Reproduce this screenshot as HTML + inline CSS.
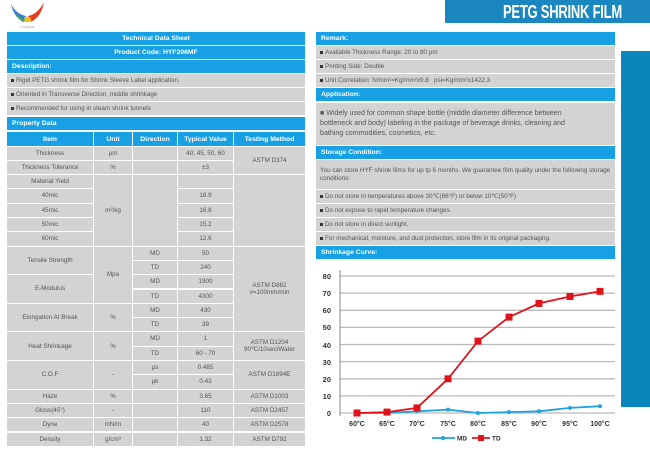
<!DOCTYPE html>
<html><head><meta charset="utf-8"><style>
*{margin:0;padding:0;box-sizing:border-box}
body{width:650px;height:453px;background:#fff;position:relative;overflow:hidden;font-family:"Liberation Sans",sans-serif;font-size:6.3px;color:#555}
.c{position:absolute;background:#d3d3d3;display:flex;align-items:center;justify-content:center;text-align:center;line-height:1.15}
.h{position:absolute;background:#17a0e4;color:#fff;font-weight:bold;display:flex;align-items:center;font-size:6.8px}
.l{justify-content:flex-start;padding-left:5px;text-align:left}
.b{position:absolute;background:#d3d3d3;display:flex;align-items:center;padding-left:4px;color:#555}
.b::before{content:"";display:inline-block;width:3px;height:3px;background:#333;margin-right:2px}
</style></head><body>
<svg style="position:absolute;left:8px;top:0" width="40" height="30"><path d="M3 4 Q8 14 18 16 L16 22 Q6 18 3 4Z" fill="#3a7fd0"/><path d="M36 2 Q30 14 20 16 L22 22 Q33 18 36 2Z" fill="#e04020"/><path d="M16 17 L22 17 L24 22 L17 22Z" fill="#f0c020"/><path d="M8 14 L16 20 L14 22Z" fill="#40b040"/><text x="12" y="28" font-size="3" fill="#999">YOUFENG</text></svg>
<div style="position:absolute;left:445px;top:0;width:205px;height:23px;background:#1a87c1"></div>
<div style="position:absolute;left:503px;top:1px;height:22px;color:#fff;font-weight:bold;font-size:18px;line-height:22px;white-space:nowrap;transform:scaleX(0.72);transform-origin:0 0;letter-spacing:-0.3px">PETG SHRINK FILM</div>
<div style="position:absolute;left:621px;top:51px;width:29px;height:356px;background:#0a86bd"></div>

<div class="h" style="left:7px;top:32px;width:298px;height:13px;justify-content:center">Technical Data Sheet</div>
<div class="h" style="left:7px;top:46px;width:298px;height:13px;justify-content:center">Product Code: HYF206MF</div>
<div class="h l" style="left:7px;top:60px;width:298px;height:13px">Description:</div>
<div class="b" style="left:7px;top:74px;width:298px;height:13px">Rigid PETG shrink film for Shrink Sleeve Label application.</div>
<div class="b" style="left:7px;top:88px;width:298px;height:13px">Oriented in Transverse Direction, middle shrinkage</div>
<div class="b" style="left:7px;top:102px;width:298px;height:13px">Recommended for using in steam shrink tunnels</div>
<div class="h l" style="left:7px;top:117px;width:298px;height:13px">Property Data</div>
<div class="h" style="left:7px;top:132px;width:86px;height:14px;justify-content:center">Item</div>
<div class="h" style="left:94px;top:132px;width:38px;height:14px;justify-content:center">Unit</div>
<div class="h" style="left:133px;top:132px;width:44px;height:14px;justify-content:center">Direction</div>
<div class="h" style="left:178px;top:132px;width:55px;height:14px;justify-content:center">Typical Value</div>
<div class="h" style="left:234px;top:132px;width:71px;height:14px;justify-content:center">Testing Method</div>

<div class="c" style="left:7px;top:146.5px;width:86px;height:13.3px">Thickness</div>
<div class="c" style="left:7px;top:160.8px;width:86px;height:13.3px">Thickness Tolerance</div>
<div class="c" style="left:7px;top:175.1px;width:86px;height:13.3px">Material Yield</div>
<div class="c" style="left:7px;top:189.4px;width:86px;height:13.3px">40mic</div>
<div class="c" style="left:7px;top:203.7px;width:86px;height:13.3px">45mic</div>
<div class="c" style="left:7px;top:218px;width:86px;height:13.3px">50mic</div>
<div class="c" style="left:7px;top:232.3px;width:86px;height:13.3px">60mic</div>
<div class="c" style="left:7px;top:246.6px;width:86px;height:27.6px">Tensile Strength</div>
<div class="c" style="left:7px;top:275.2px;width:86px;height:27.6px">E-Modulus</div>
<div class="c" style="left:7px;top:303.8px;width:86px;height:27.6px">Elongation At Break</div>
<div class="c" style="left:7px;top:332.4px;width:86px;height:27.6px">Heat Shrinkage</div>
<div class="c" style="left:7px;top:361px;width:86px;height:27.6px">C.O.F</div>
<div class="c" style="left:7px;top:389.6px;width:86px;height:13.3px">Haze</div>
<div class="c" style="left:7px;top:403.9px;width:86px;height:13.3px">Gloss(45°)</div>
<div class="c" style="left:7px;top:418.2px;width:86px;height:13.3px">Dyne</div>
<div class="c" style="left:7px;top:432.5px;width:86px;height:13.3px">Density</div>
<div class="c" style="left:94px;top:146.5px;width:38px;height:13.3px">µm</div>
<div class="c" style="left:94px;top:160.8px;width:38px;height:13.3px">%</div>
<div class="c" style="left:94px;top:175.1px;width:38px;height:70.5px">m²/kg</div>
<div class="c" style="left:94px;top:246.6px;width:38px;height:56.2px">Mpa</div>
<div class="c" style="left:94px;top:303.8px;width:38px;height:27.6px">%</div>
<div class="c" style="left:94px;top:332.4px;width:38px;height:27.6px">%</div>
<div class="c" style="left:94px;top:361px;width:38px;height:27.6px">-</div>
<div class="c" style="left:94px;top:389.6px;width:38px;height:13.3px">%</div>
<div class="c" style="left:94px;top:403.9px;width:38px;height:13.3px">-</div>
<div class="c" style="left:94px;top:418.2px;width:38px;height:13.3px">mN/m</div>
<div class="c" style="left:94px;top:432.5px;width:38px;height:13.3px">g/cm³</div>
<div class="c" style="left:133px;top:146.5px;width:44px;height:13.3px"></div>
<div class="c" style="left:133px;top:160.8px;width:44px;height:13.3px"></div>
<div class="c" style="left:133px;top:175.1px;width:44px;height:70.5px"></div>
<div class="c" style="left:133px;top:246.6px;width:44px;height:13.3px">MD</div>
<div class="c" style="left:133px;top:260.9px;width:44px;height:13.3px">TD</div>
<div class="c" style="left:133px;top:275.2px;width:44px;height:13.3px">MD</div>
<div class="c" style="left:133px;top:289.5px;width:44px;height:13.3px">TD</div>
<div class="c" style="left:133px;top:303.8px;width:44px;height:13.3px">MD</div>
<div class="c" style="left:133px;top:318.1px;width:44px;height:13.3px">TD</div>
<div class="c" style="left:133px;top:332.4px;width:44px;height:13.3px">MD</div>
<div class="c" style="left:133px;top:346.7px;width:44px;height:13.3px">TD</div>
<div class="c" style="left:133px;top:361px;width:44px;height:13.3px">µs</div>
<div class="c" style="left:133px;top:375.3px;width:44px;height:13.3px">µk</div>
<div class="c" style="left:133px;top:389.6px;width:44px;height:13.3px"></div>
<div class="c" style="left:133px;top:403.9px;width:44px;height:13.3px"></div>
<div class="c" style="left:133px;top:418.2px;width:44px;height:13.3px"></div>
<div class="c" style="left:133px;top:432.5px;width:44px;height:13.3px"></div>
<div class="c" style="left:178px;top:146.5px;width:55px;height:13.3px">40, 45, 50, 60</div>
<div class="c" style="left:178px;top:160.8px;width:55px;height:13.3px">±3</div>
<div class="c" style="left:178px;top:175.1px;width:55px;height:13.3px"></div>
<div class="c" style="left:178px;top:189.4px;width:55px;height:13.3px">18.9</div>
<div class="c" style="left:178px;top:203.7px;width:55px;height:13.3px">16.8</div>
<div class="c" style="left:178px;top:218px;width:55px;height:13.3px">15.2</div>
<div class="c" style="left:178px;top:232.3px;width:55px;height:13.3px">12.6</div>
<div class="c" style="left:178px;top:246.6px;width:55px;height:13.3px">50</div>
<div class="c" style="left:178px;top:260.9px;width:55px;height:13.3px">240</div>
<div class="c" style="left:178px;top:275.2px;width:55px;height:13.3px">1900</div>
<div class="c" style="left:178px;top:289.5px;width:55px;height:13.3px">4300</div>
<div class="c" style="left:178px;top:303.8px;width:55px;height:13.3px">430</div>
<div class="c" style="left:178px;top:318.1px;width:55px;height:13.3px">39</div>
<div class="c" style="left:178px;top:332.4px;width:55px;height:13.3px">1</div>
<div class="c" style="left:178px;top:346.7px;width:55px;height:13.3px">60 - 70</div>
<div class="c" style="left:178px;top:361px;width:55px;height:13.3px">0.485</div>
<div class="c" style="left:178px;top:375.3px;width:55px;height:13.3px">0.43</div>
<div class="c" style="left:178px;top:389.6px;width:55px;height:13.3px">3.65</div>
<div class="c" style="left:178px;top:403.9px;width:55px;height:13.3px">110</div>
<div class="c" style="left:178px;top:418.2px;width:55px;height:13.3px">40</div>
<div class="c" style="left:178px;top:432.5px;width:55px;height:13.3px">1.32</div>
<div class="c" style="left:234px;top:146.5px;width:71px;height:27.6px">ASTM D374</div>
<div class="c" style="left:234px;top:175.1px;width:71px;height:70.5px"></div>
<div class="c" style="left:234px;top:246.6px;width:71px;height:84.8px">ASTM D882<br>v=100mm/min</div>
<div class="c" style="left:234px;top:332.4px;width:71px;height:27.6px">ASTM D1204<br>90℃/10sec/Water</div>
<div class="c" style="left:234px;top:361px;width:71px;height:27.6px">ASTM D1894E</div>
<div class="c" style="left:234px;top:389.6px;width:71px;height:13.3px">ASTM D1003</div>
<div class="c" style="left:234px;top:403.9px;width:71px;height:13.3px">ASTM D2457</div>
<div class="c" style="left:234px;top:418.2px;width:71px;height:13.3px">ASTM D2578</div>
<div class="c" style="left:234px;top:432.5px;width:71px;height:13.3px">ASTM D792</div>

<div class="h l" style="left:316px;top:32px;width:299px;height:13px">Remark:</div>
<div class="b" style="left:316px;top:46px;width:299px;height:13px">Available Thickness Range: 20 to 80 µm</div>
<div class="b" style="left:316px;top:60px;width:299px;height:13px">Printing Side: Double</div>
<div class="b" style="left:316px;top:74px;width:299px;height:13px">Unit Correlation: N/mm²=Kg/mm²x9.8&nbsp;&nbsp; psi=Kg/mm²x1422.3</div>
<div class="h l" style="left:316px;top:88px;width:299px;height:13px">Application:</div>
<div style="position:absolute;left:316px;top:103px;width:299px;height:42px;background:#d3d3d3;padding:6px 4px 0 4px;font-size:7.1px;line-height:9.8px;white-space:nowrap">■ Widely used for common shape bottle (middle diameter difference between<br>bottleneck and body) labeling in the package of beverage drinks, cleaning and<br>bathing commodities, cosmetics, etc.</div>
<div class="h l" style="left:316px;top:146px;width:299px;height:13px">Storage Condition:</div>
<div style="position:absolute;left:316px;top:160px;width:299px;height:29px;background:#d3d3d3;padding:7px 4px 0;line-height:8px">You can store HYF shrink films for up tp 6 months. We guarantee film quality under the following storage conditions:</div>
<div class="b" style="left:316px;top:190px;width:299px;height:13px">Do not store in temperatures above 30℃(86°F) or below 10℃(50°F)</div>
<div class="b" style="left:316px;top:204px;width:299px;height:13px">Do not expose to rapid temperature changes.</div>
<div class="b" style="left:316px;top:218px;width:299px;height:13px">Do not store in direct sunlight.</div>
<div class="b" style="left:316px;top:232px;width:299px;height:13px">For mechanical, moisture, and dust protection, store film in its original packaging.</div>
<div class="h l" style="left:316px;top:246px;width:299px;height:13px">Shrinkage Curve:</div>

<svg style="position:absolute;left:0;top:0" width="650" height="453">
<g stroke="#bbb" stroke-width="1.3">
<line x1="340" y1="276" x2="615" y2="276"/><line x1="340" y1="293.1" x2="615" y2="293.1"/><line x1="340" y1="310.3" x2="615" y2="310.3"/><line x1="340" y1="327.4" x2="615" y2="327.4"/><line x1="340" y1="344.5" x2="615" y2="344.5"/><line x1="340" y1="361.6" x2="615" y2="361.6"/><line x1="340" y1="378.8" x2="615" y2="378.8"/><line x1="340" y1="395.9" x2="615" y2="395.9"/><line x1="340" y1="413" x2="615" y2="413"/>
</g>
<line x1="340" y1="270" x2="340" y2="416" stroke="#888"/>
<g font-family="Liberation Sans" font-weight="bold" font-size="7.5" fill="#333" text-anchor="end">
<text x="331" y="279">80</text><text x="331" y="296">70</text><text x="331" y="313">60</text><text x="331" y="330">50</text><text x="331" y="348">40</text><text x="331" y="365">30</text><text x="331" y="382">20</text><text x="331" y="399">10</text><text x="331" y="416">0</text>
</g>
<g font-family="Liberation Sans" font-weight="bold" font-size="7" fill="#333" text-anchor="middle">
<text x="357" y="426">60°C</text><text x="387" y="426">65°C</text><text x="417" y="426">70°C</text><text x="448" y="426">75°C</text><text x="478" y="426">80°C</text><text x="509" y="426">85°C</text><text x="539" y="426">90°C</text><text x="570" y="426">95°C</text><text x="600" y="426">100°C</text>
</g>
<polyline fill="none" stroke="#1ea3e0" stroke-width="1.8" points="357,413 387,413 417,411.3 448,409.6 478,413 509,412.1 539,411.3 570,407.9 600,406.2"/>
<g fill="#1ea3e0"><circle cx="357" cy="413" r="2"/><circle cx="387" cy="413" r="2"/><circle cx="417" cy="411.3" r="2"/><circle cx="448" cy="409.6" r="2"/><circle cx="478" cy="413" r="2"/><circle cx="509" cy="412.1" r="2"/><circle cx="539" cy="411.3" r="2"/><circle cx="570" cy="407.9" r="2"/><circle cx="600" cy="406.2" r="2"/></g>
<polyline fill="none" stroke="#e0131a" stroke-width="1.8" points="357,413 387,412.1 417,407.9 448,378.8 478,341.1 509,317.1 539,303.4 570,296.5 600,291.4"/>
<g fill="#e0131a"><rect x="353.5" y="409.5" width="7" height="7"/><rect x="383.5" y="408.6" width="7" height="7"/><rect x="413.5" y="404.4" width="7" height="7"/><rect x="444.5" y="375.3" width="7" height="7"/><rect x="474.5" y="337.6" width="7" height="7"/><rect x="505.5" y="313.6" width="7" height="7"/><rect x="535.5" y="299.9" width="7" height="7"/><rect x="566.5" y="293" width="7" height="7"/><rect x="596.5" y="287.9" width="7" height="7"/></g>
<line x1="432" y1="438" x2="455" y2="438" stroke="#1ea3e0" stroke-width="1.8"/><circle cx="443" cy="438" r="2" fill="#1ea3e0"/>
<text x="457" y="440.5" font-family="Liberation Sans" font-weight="bold" font-size="6.5" fill="#333">MD</text>
<line x1="472" y1="438" x2="490" y2="438" stroke="#e0131a" stroke-width="1.8"/><rect x="478" y="435" width="6" height="6" fill="#e0131a"/>
<text x="492" y="440.5" font-family="Liberation Sans" font-weight="bold" font-size="6.5" fill="#333">TD</text>
</svg>
</body></html>
